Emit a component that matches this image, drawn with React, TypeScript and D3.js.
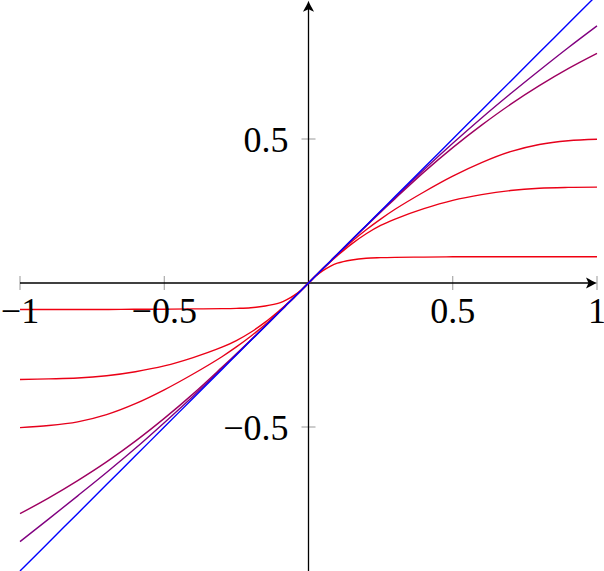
import * as d3 from 'd3';

// sample positions along x
const xs = [-1, -0.9, -0.8, -0.7, -0.6, -0.5, -0.4, -0.3, -0.25, -0.2, -0.15, -0.1, -0.075, -0.05, -0.025, 0,
  0.025, 0.05, 0.075, 0.1, 0.15, 0.2, 0.25, 0.3, 0.4, 0.5, 0.6, 0.7, 0.8, 0.9, 1];

const curveA = [-0.092, -0.092, -0.092, -0.092, -0.091, -0.091, -0.090, -0.089, -0.088, -0.086, -0.080, -0.069, -0.058, -0.043, -0.024, 0,
  0.024, 0.043, 0.058, 0.069, 0.080, 0.086, 0.088, 0.089, 0.090, 0.091, 0.091, 0.091, 0.091, 0.091, 0.091];
const curveB = [-0.335, -0.333, -0.330, -0.322, -0.308, -0.288, -0.259, -0.223, -0.200, -0.171, -0.136, -0.095, -0.073, -0.049, -0.025, 0,
  0.025, 0.049, 0.073, 0.095, 0.136, 0.171, 0.200, 0.222, 0.258, 0.287, 0.307, 0.321, 0.329, 0.332, 0.333];
const curveC = [-0.502, -0.495, -0.482, -0.457, -0.419, -0.371, -0.316, -0.256, -0.222, -0.185, -0.144, -0.098, -0.074, -0.05, -0.025, 0,
  0.025, 0.05, 0.074, 0.098, 0.144, 0.185, 0.222, 0.256, 0.316, 0.371, 0.418, 0.456, 0.481, 0.494, 0.499];
const curveD = [-0.801, -0.746, -0.686, -0.621, -0.549, -0.470, -0.385, -0.293, -0.246, -0.198, -0.149, -0.1, -0.075, -0.05, -0.025, 0,
  0.025, 0.05, 0.075, 0.1, 0.149, 0.198, 0.246, 0.293, 0.385, 0.470, 0.548, 0.620, 0.685, 0.744, 0.797];
const curveE = [-0.898, -0.819, -0.739, -0.658, -0.574, -0.485, -0.393, -0.297, -0.248, -0.199, -0.15, -0.1, -0.075, -0.05, -0.025, 0,
  0.025, 0.05, 0.075, 0.1, 0.15, 0.199, 0.248, 0.297, 0.393, 0.485, 0.573, 0.657, 0.738, 0.817, 0.893];
const curveF = [-1, -0.9, -0.8, -0.7, -0.6, -0.5, -0.4, -0.3, -0.25, -0.2, -0.15, -0.1, -0.075, -0.05, -0.025, 0,
  0.025, 0.05, 0.075, 0.1, 0.15, 0.2, 0.25, 0.3, 0.4, 0.5, 0.6, 0.7, 0.8, 0.9, 1];

const series = [
  { values: curveA, color: 'rgb(240,0,16)' },
  { values: curveB, color: 'rgb(235,0,22)' },
  { values: curveC, color: 'rgb(230,0,28)' },
  { values: curveD, color: 'rgb(158,0,97)' },
  { values: curveE, color: 'rgb(128,0,128)' },
  { values: curveF, color: 'rgb(0,0,255)' },
];

const xTicks = [-1, -0.5, 0.5, 1];
const yTicks = [-0.5, 0.5];
const yTop = 0.98;

const width = 604;
const height = 571;

export default function App() {
  const x = d3.scaleLinear().domain([-1, 1]).range([20, 597]);
  const y = d3.scaleLinear().domain([-1, 1]).range([571, -5]);
  const fmt = d3.format('~g');

  const line = d3.line<number>()
    .x((_, i) => x(xs[i]))
    .y(d => y(d))
    .curve(d3.curveCatmullRom.alpha(0.5));

  const arrow = 'M0,0 C-3,-1 -7,-3.5 -11,-5.5 L-8.5,0 L-11,5.5 C-7,3.5 -3,1 0,0 Z';
  const font = '"Liberation Serif", "DejaVu Serif", serif';

  return (
    <svg width={width} height={height} style={{ position: 'absolute', left: 0, top: 0, background: '#fff' }}>
      {/* ticks */}
      {xTicks.map(t => (
        <line key={'xt' + t} x1={x(t)} x2={x(t)} y1={y(0) - 7} y2={y(0) + 7} stroke="#999" strokeWidth={1} />
      ))}
      {yTicks.map(t => (
        <line key={'yt' + t} x1={x(0) - 7} x2={x(0) + 7} y1={y(t)} y2={y(t)} stroke="#999" strokeWidth={1} />
      ))}

      {/* axes */}
      <line x1={x(-1)} x2={x(1) - 4} y1={y(0)} y2={y(0)} stroke="#000" strokeWidth={1.3} />
      <path d={arrow} transform={`translate(${x(1)},${y(0)})`} fill="#000" />
      <line x1={x(0)} x2={x(0)} y1={y(-1)} y2={y(yTop) + 4} stroke="#000" strokeWidth={1.3} />
      <path d={arrow} transform={`translate(${x(0)},${y(yTop)}) rotate(-90)`} fill="#000" />

      {/* curves */}
      {series.map((s, i) => (
        <path key={i} d={line(s.values) || ''} fill="none" stroke={s.color} strokeWidth={1.4} />
      ))}

      {/* tick labels */}
      {xTicks.map(t => (
        <text key={'xl' + t} x={x(t)} y={y(0) + 40} textAnchor="middle" fontFamily={font} fontSize={36} fill="#000">
          {fmt(t)}
        </text>
      ))}
      {yTicks.map(t => (
        <text key={'yl' + t} x={x(0) - 20} y={y(t)} dy="0.35em" textAnchor="end" fontFamily={font} fontSize={36} fill="#000">
          {fmt(t)}
        </text>
      ))}
    </svg>
  );
}
